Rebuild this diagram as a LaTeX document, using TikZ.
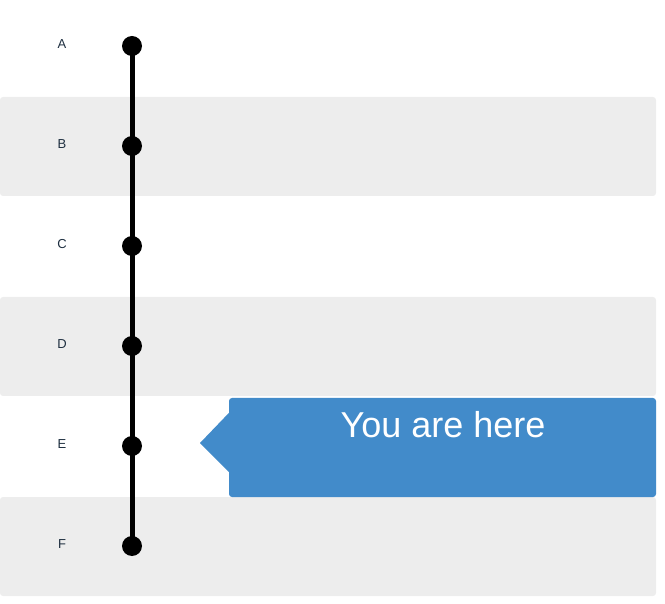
\documentclass[tikz,border=0pt]{standalone}
\usepackage{fontspec}
\setmainfont{Liberation Sans}
\usetikzlibrary{positioning,backgrounds}
\definecolor{bandgray}{HTML}{EDEDED}
\definecolor{hereblue}{HTML}{428BCA}
\definecolor{labelnavy}{HTML}{1E2F40}

\begin{document}
\begin{tikzpicture}[x=1pt,y=-1pt,
  band/.style={fill=bandgray,rounded corners=3pt},
  stopdot/.style={circle,fill=black,inner sep=0pt,minimum size=20pt},
  rowlabel/.style={text=labelnavy,font=\fontsize{13}{15}\selectfont},
  herebox/.style={fill=hereblue,rounded corners=3pt,inner sep=0pt,minimum width=427pt,minimum height=99pt}]
\useasboundingbox (0,0) rectangle (665,604);
% stations
\foreach \n/\lab [count=\i from 0] in {a/A,b/B,c/C,d/D,e/E,f/F} {
  \node[rowlabel] (lab\n) at (62,44+100*\i) {\lab};
  \node[stopdot] (\n) at (132,46+100*\i) {};
}
\begin{scope}[on background layer]
% grey bands
\foreach \y in {97,297,497}
  \fill[band] (0,\y) rectangle (656,\y+99);
% track
\draw[line width=5pt] (a.center) -- (f.center);
\end{scope}
% callout
\node[herebox] (here) at (442.5,447.5) {};
\coordinate (tip) at (200,443);
\fill[hereblue] (here.west |- 0,413) -- (tip) -- (here.west |- 0,472) -- cycle;
\node[anchor=base,text=white,font=\fontsize{36}{40}\selectfont,inner sep=0pt] (herelab) at (443,438) {You are here};
\end{tikzpicture}
\end{document}
